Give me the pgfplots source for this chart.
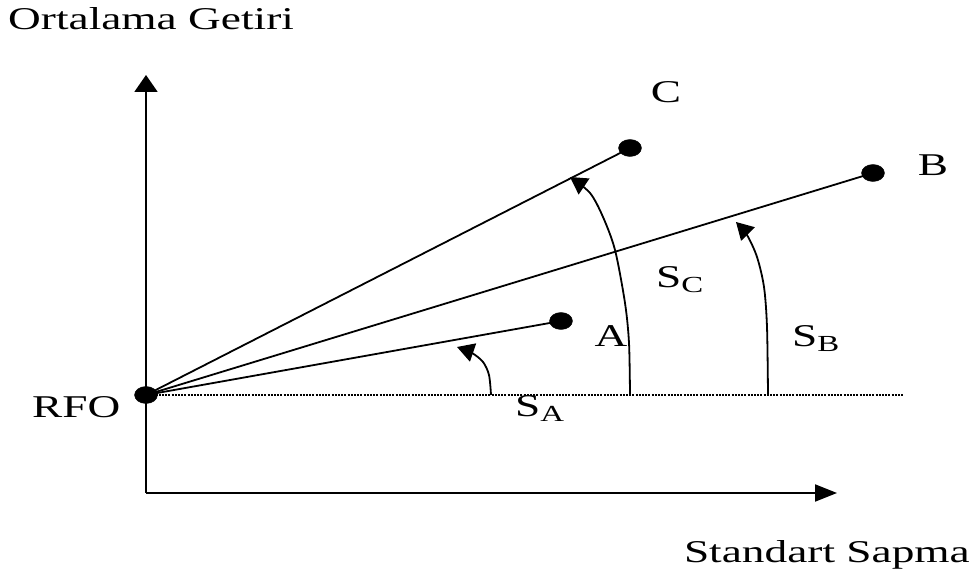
\documentclass[border=0pt]{standalone}
\usepackage{pgfplots}
\pgfplotsset{compat=1.18}
\usepackage{fontspec}
\setmainfont{Liberation Serif}[FakeStretch=1.43]
\usetikzlibrary{arrows.meta}
\newcommand{\sub}[1]{\raisebox{-5pt}{\fontsize{23}{26}\selectfont #1}}
\begin{document}
\begin{tikzpicture}[font=\fontsize{31.7}{38}\selectfont]
\begin{axis}[
  width=977pt, height=577pt, scale only axis,
  xmin=0, xmax=977, ymin=0, ymax=577,
  hide axis, clip=false,
]
\addplot[draw=none] coordinates {(0,0) (977,577)};
% axes
\addplot[line width=2pt, -{Triangle[length=17pt,width=23pt]}] coordinates {(146,84) (146,502)};
\addplot[line width=2pt, -{Triangle[length=22pt,width=17pt]}] coordinates {(146,84) (837,84)};
% dotted baseline
\addplot[line width=1.5pt, dash pattern=on 2pt off 1.2pt] coordinates {(146,182) (904,182)};
% rays
\addplot[line width=1.8pt] coordinates {(146,182) (561,256)};
\addplot[line width=1.8pt] coordinates {(146,182) (873,404)};
\addplot[line width=1.8pt] coordinates {(146,182) (630,429)};
% points
\addplot[only marks, mark=*, mark size=8.5pt, mark options={xscale=1.35, fill=black}]
  coordinates {(146,182) (561,256) (873,404) (630,429)};
% curved arrows
\addplot[line width=1.8pt, smooth, -{Triangle[length=17pt,width=19pt]}]
  coordinates {(491,182) (489,202) (483,215) (472,224) (457,230)};
\addplot[line width=1.8pt, smooth, -{Triangle[length=17pt,width=19pt]}]
  coordinates {(630,182) (629,234) (625,274) (615,327) (603,360) (590,384) (570,400)};
\addplot[line width=1.8pt, smooth, -{Triangle[length=17pt,width=19pt]}]
  coordinates {(768,182) (767,250) (764,290) (757,320) (747,342) (736,355)};
% labels
\node[anchor=base west, inner sep=0pt] at (axis cs:8,547) {Ortalama Getiri};
\node[anchor=base east, inner sep=0pt] at (axis cs:970,14) {Standart Sapma};
\node[anchor=base, inner sep=0pt] at (axis cs:666,474) {C};
\node[anchor=base, inner sep=0pt] at (axis cs:933,401) {B};
\node[anchor=base, inner sep=0pt] at (axis cs:611,230) {A};
\node[anchor=base west, inner sep=0pt] at (axis cs:32,159) {RFO};
\node[anchor=base west, inner sep=0pt] at (axis cs:656,289) {S\sub{C}};
\node[anchor=base west, inner sep=0pt] at (axis cs:792,230) {S\sub{B}};
\node[anchor=base west, inner sep=0pt] at (axis cs:515,160) {S\sub{A}};
\end{axis}
\end{tikzpicture}
\end{document}
